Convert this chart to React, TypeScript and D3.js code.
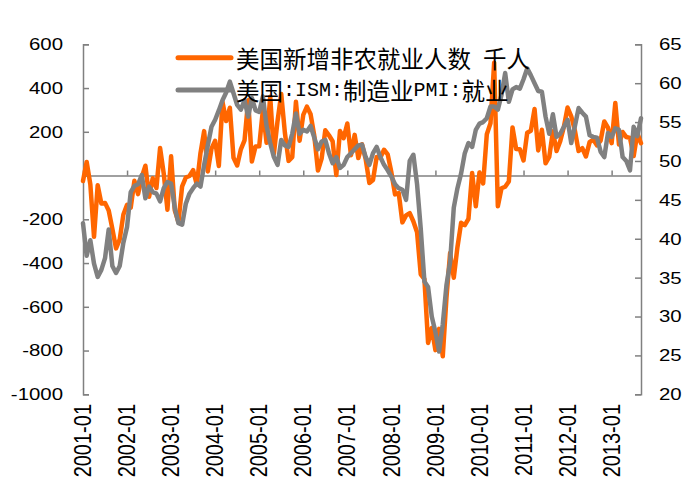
import { useRef, useEffect } from 'react';
import * as d3 from 'd3';

// monthly categories 2001-01 .. 2013-09
const years = [2001, 2002, 2003, 2004, 2005, 2006, 2007, 2008, 2009, 2010, 2011, 2012, 2013];
const months: string[] = years.flatMap((y) =>
	d3.range(1, y === 2013 ? 10 : 13).map((m) => `${y}-${String(m).padStart(2, '0')}`),
);
const tickLabels = years.map((y) => `${y}-01`);

// 美国新增非农就业人数 (千人), left axis
const payrolls = [
	-25, 62, -40, -280, -44, -128, -125, -160, -244, -333, -292, -178, // 2001
	-134, -147, -24, -85, -7, 45, -97, -12, -57, 126, 8, -156, // 2002
	88, -159, -213, -49, -9, -2, 25, -42, 103, 203, 19, 123, // 2003
	159, 44, 337, 249, 310, 81, 46, 120, 161, 344, 64, 133, // 2004
	134, 300, 150, 360, 100, 250, 373, 195, 67, 84, 337, 159, // 2005
	277, 315, 280, 182, 23, 77, 207, 184, 157, 2, 204, 171, // 2006
	238, 93, 186, 80, 143, 75, -34, -20, 85, 82, 118, 97, // 2007
	15, -86, -80, -214, -182, -172, -210, -259, -452, -474, -765, -697, // 2008
	-798, -701, -826, -560, -354, -467, -327, -216, -227, -198, 12, -140, // 2009
	14, -36, 189, 239, 516, -140, -58, -51, -27, 220, 121, 120, // 2010
	69, 196, 205, 304, 115, 209, 56, 85, 202, 112, 157, 223, // 2011
	311, 271, 205, 112, 125, 87, 153, 165, 138, 160, 247, 219, // 2012
	148, 332, 142, 199, 176, 172, 89, 193, 148, // 2013
];

// 美国:ISM:制造业PMI:就业, right axis
const ismEmployment = [
	42, 37.8, 39.8, 36.8, 35.1, 36, 37.5, 41.2, 36.5, 35.6, 36.5, 39.5, // 2001
	41.5, 46, 46.8, 47, 48.2, 45.2, 46.7, 46, 45.8, 44.8, 46.5, 47.3, // 2002
	47.1, 44, 42, 41.8, 44.5, 45.8, 46.5, 47.1, 46.7, 49.5, 52, 54.4, // 2003
	55.3, 56.5, 57.8, 58.8, 60.2, 58.7, 57.2, 56.6, 57.8, 55.7, 58.1, 56.5, // 2004
	56.3, 58.3, 54.5, 52.3, 50.5, 49.5, 52.7, 52, 51.8, 53.5, 56.1, 53.5, // 2005
	54, 53.8, 54.5, 53, 51.5, 52.5, 52.7, 51, 49.7, 50.5, 49.1, 49.5, // 2006
	50.5, 51, 51.5, 52, 52.1, 50.5, 49.5, 51, 51.8, 50.5, 49.5, 48.8, // 2007
	48, 47, 46.5, 46.3, 45, 50, 50.8, 47, 41.3, 34.5, 33.8, 30, // 2008
	28, 25.5, 29, 34, 37, 44, 46.5, 48.4, 51, 52.3, 51.8, 54, // 2009
	54.8, 55, 55.5, 57, 57, 56.6, 58.5, 61.3, 57.6, 59.2, 59.5, 59.3, // 2010
	60.5, 61.9, 61, 60, 59, 58.9, 55.7, 53.5, 56, 53.1, 53.5, 54.4, // 2011
	55.3, 52.3, 54.5, 56.8, 56.2, 55.7, 53.3, 53.1, 53, 51.2, 50.5, 53.6, // 2012
	53.1, 54.2, 54, 50.5, 50, 48.8, 54.4, 53.2, 55.5, // 2013
];

const leftTicks = [600, 400, 200, -200, -400, -600, -800, -1000];
const rightTicks = [65, 60, 55, 50, 45, 40, 35, 30, 25, 20];

const ORANGE = '#ff6600';
const GREY = '#808080';
const AXIS = '#808080';
const SX = 1.2; // glyphs in the source image are stretched horizontally
const FONT = '"Liberation Sans", Arial, sans-serif';
const CJK_FONT = '"Noto Sans CJK SC", sans-serif';
const LATIN_FONT = '"Liberation Mono", monospace';

export default function App() {
	const svgRef = useRef<SVGSVGElement>(null);

	useEffect(() => {
		const svg = d3.select(svgRef.current);
		svg.selectAll('*').remove();

		const x0 = 83;
		const x1 = 641;
		const yTop = 44.3;
		const yBot = 394.3;

		const x = d3.scalePoint<string>().domain(months).range([x0, x1]);
		const yL = d3.scaleLinear().domain([-1000, 600]).range([yBot, yTop]);
		const yR = d3.scaleLinear().domain([20, 65]).range([yBot, yTop]);

		// left axis
		const left = svg
			.append('g')
			.attr('transform', `translate(${x0},0)`)
			.call(
				d3
					.axisLeft(yL)
					.tickValues([...leftTicks, 0])
					.tickSizeInner(-6)
					.tickSizeOuter(-6)
					.tickFormat(() => ''),
			);
		left.selectAll('path,line').attr('stroke', AXIS).attr('stroke-width', 1.5);

		// right axis
		const right = svg
			.append('g')
			.attr('transform', `translate(${x1},0)`)
			.call(
				d3
					.axisRight(yR)
					.tickValues(rightTicks)
					.tickSizeInner(-6)
					.tickSizeOuter(-6)
					.tickFormat(() => ''),
			);
		right.selectAll('path,line').attr('stroke', AXIS).attr('stroke-width', 1.5);

		// category axis across the zero line
		const bottom = svg
			.append('g')
			.attr('transform', `translate(0,${yL(0)})`)
			.call(
				d3
					.axisBottom(x)
					.tickValues(tickLabels)
					.tickSizeInner(-5)
					.tickSizeOuter(0)
					.tickFormat(() => ''),
			);
		bottom.selectAll('path,line').attr('stroke', AXIS).attr('stroke-width', 1.5);

		// tick labels
		leftTicks.forEach((v) => {
			svg.append('text')
				.attr('transform', `translate(63,${yL(v)}) scale(${SX},1)`)
				.attr('text-anchor', 'end')
				.attr('dominant-baseline', 'central')
				.attr('font-family', FONT)
				.attr('font-size', 17)
				.text(v);
		});
		rightTicks.forEach((v) => {
			svg.append('text')
				.attr('transform', `translate(659,${yR(v)}) scale(${SX},1)`)
				.attr('dominant-baseline', 'central')
				.attr('font-family', FONT)
				.attr('font-size', 17)
				.text(v);
		});
		tickLabels.forEach((t) => {
			svg.append('text')
				.attr('transform', `translate(${x(t)},404) rotate(-90) scale(1,${SX})`)
				.attr('text-anchor', 'end')
				.attr('dominant-baseline', 'central')
				.attr('font-family', FONT)
				.attr('font-size', 20)
				.text(t);
		});

		// series
		const lineL = d3
			.line<number>()
			.x((_, i) => x(months[i]) as number)
			.y((d) => yL(d));
		const lineR = d3
			.line<number>()
			.x((_, i) => x(months[i]) as number)
			.y((d) => yR(d));

		svg.append('path')
			.datum(payrolls)
			.attr('d', lineL)
			.attr('fill', 'none')
			.attr('stroke', ORANGE)
			.attr('stroke-width', 4.5)
			.attr('stroke-linejoin', 'round')
			.attr('stroke-linecap', 'round');

		svg.append('path')
			.datum(ismEmployment)
			.attr('d', lineR)
			.attr('fill', 'none')
			.attr('stroke', GREY)
			.attr('stroke-width', 4.5)
			.attr('stroke-linejoin', 'round')
			.attr('stroke-linecap', 'round');

		// legend: CJK runs and half-width runs use different fonts, like the original
		const legend = [
			{ label: '美国新增非农就业人数 千人', color: ORANGE, y: 57.7 },
			{ label: '美国:ISM:制造业PMI:就业', color: GREY, y: 90 },
		];
		legend.forEach((l) => {
			svg.append('line')
				.attr('x1', 178)
				.attr('x2', 231)
				.attr('y1', l.y)
				.attr('y2', l.y)
				.attr('stroke', l.color)
				.attr('stroke-width', 5)
				.attr('stroke-linecap', 'round');
			const text = svg
				.append('text')
				.attr('x', 236)
				.attr('y', l.y)
				.attr('dominant-baseline', 'central')
				.style('white-space', 'pre')
				.attr('fill', '#000');
			l.label
				.split(/([\u4e00-\u9fff]+)/)
				.filter((s) => s.length > 0)
				.forEach((run) => {
					const cjk = /[\u4e00-\u9fff]/.test(run);
					text.append('tspan')
						.attr('font-family', cjk ? CJK_FONT : LATIN_FONT)
						.attr('font-size', cjk ? 23.5 : 20)
						.text(run);
				});
		});
	}, []);

	return (
		<svg
			ref={svgRef}
			width={689}
			height={487}
			style={{ position: 'absolute', left: 0, top: 0, background: '#fff' }}
		/>
	);
}
